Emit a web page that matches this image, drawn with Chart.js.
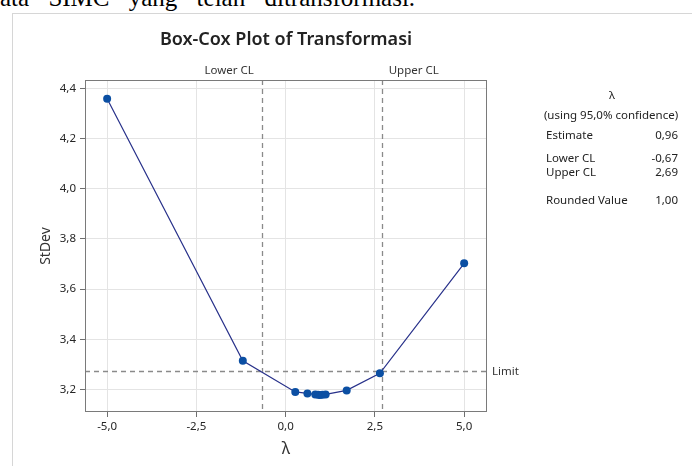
<!DOCTYPE html>
<html>
<head>
<meta charset="utf-8">
<script src="https://cdn.jsdelivr.net/npm/chart.js@4/dist/chart.umd.min.js"></script>
<style>
  html, body { margin: 0; padding: 0; background: #fff; width: 692px; height: 466px; overflow: hidden; position: relative; }
  #caption { position: absolute; left: 0; top: -15px; font-family: "Liberation Serif", "Times New Roman", serif; font-size: 25px; line-height: 25px; white-space: nowrap; word-spacing: 13px; color: #000; }
  #frame { position: absolute; left: 12px; top: 13px; width: 700px; height: 470px; border-top: 1px solid #d6d6d6; border-left: 1px solid #d6d6d6; }
  #wrap { position: absolute; left: 0; top: 0; width: 692px; height: 466px; }
  .info { position: absolute; font-family: "Noto Sans", sans-serif; font-size: 11.5px; line-height: 13px; color: #222; white-space: nowrap; transform: translateY(-50%); }
</style>
</head>
<body>
<div id="caption">ata SIMC yang telah ditransformasi.</div>
<div id="frame"></div>
<div id="wrap"><canvas id="c" width="692" height="466"></canvas></div>
<div id="info"></div>
<script>
// Box-Cox search: lambda vs. standard deviation of the transformed data
const lambdaValues = [-5, -1.2, 0.27, 0.61, 0.83, 0.91, 0.96, 1.03, 1.12, 1.71, 2.64, 5];
const stdevValues  = [4.358, 3.315, 3.191, 3.185, 3.181, 3.180, 3.179, 3.180, 3.181, 3.197, 3.265, 3.703];

const xTickValues = [-5, -2.5, 0, 2.5, 5];
const yTickValues = [3.2, 3.4, 3.6, 3.8, 4.0, 4.2, 4.4];

// 95% confidence results
const estimate = 0.96;
const lowerCL = -0.67;
const upperCL = 2.69;
const roundedValue = 1.00;
const stdevLimit = 3.274;

const infoLabels = ['Estimate', 'Lower CL', 'Upper CL', 'Rounded Value'];
const infoValues = [estimate, lowerCL, upperCL, roundedValue];
const infoRowY = [134, 157, 170.5, 199];

const FONT = '"Noto Sans", "Open Sans", sans-serif';
const fmt = (v, d) => v.toFixed(d).replace('.', ',');

// side panel with the confidence summary
const info = document.getElementById('info');
function addInfo(text, style) {
  const el = document.createElement('div');
  el.className = 'info';
  el.textContent = text;
  Object.assign(el.style, style);
  info.appendChild(el);
}
addInfo('λ', { left: '612px', top: '94px', transform: 'translate(-50%,-50%)' });
addInfo('(using 95,0% confidence)', { left: '611px', top: '114px', transform: 'translate(-50%,-50%)' });
infoLabels.forEach((lab, i) => {
  addInfo(lab, { left: '546px', top: infoRowY[i] + 'px' });
  addInfo(fmt(infoValues[i], 2), { right: (692 - 678) + 'px', top: infoRowY[i] + 'px' });
});

// confidence-limit guides, plot frame and their labels
const guides = {
  id: 'guides',
  beforeDatasetsDraw(chart) {
    const { ctx, chartArea: a, scales: { x, y } } = chart;
    ctx.save();
    ctx.setLineDash([5, 4]);
    ctx.strokeStyle = '#8a8a8a';
    ctx.lineWidth = 1.3;
    [lowerCL, upperCL].forEach(v => {
      const px = Math.round(x.getPixelForValue(v)) + 0.5;
      ctx.beginPath(); ctx.moveTo(px, a.top); ctx.lineTo(px, a.bottom); ctx.stroke();
    });
    const py = Math.round(y.getPixelForValue(stdevLimit)) + 0.5;
    ctx.beginPath(); ctx.moveTo(a.left, py); ctx.lineTo(a.right, py); ctx.stroke();
    ctx.setLineDash([]);
    ctx.strokeStyle = '#7a7a7a';
    ctx.lineWidth = 1;
    ctx.strokeRect(Math.round(a.left) + 0.5, Math.round(a.top) + 0.5,
                   Math.round(a.width) - 1, Math.round(a.height) - 1);
    ctx.restore();
  },
  afterDraw(chart) {
    const { ctx, chartArea: a, scales: { x, y } } = chart;
    ctx.save();
    ctx.fillStyle = '#333';
    ctx.font = '11.5px ' + FONT;
    ctx.textBaseline = 'middle';
    ctx.textAlign = 'right';
    ctx.fillText('Lower CL', x.getPixelForValue(lowerCL) - 8, a.top - 9);
    ctx.textAlign = 'left';
    ctx.fillText('Upper CL', x.getPixelForValue(upperCL) + 7, a.top - 9);
    ctx.font = '11.5px ' + FONT;
    ctx.fillText('Limit', a.right + 5, y.getPixelForValue(stdevLimit) + 1);
    ctx.restore();
  }
};

new Chart(document.getElementById('c'), {
  type: 'scatter',
  data: {
    datasets: [{
      data: lambdaValues.map((l, i) => ({ x: l, y: stdevValues[i] })),
      showLine: true,
      borderColor: '#28318a',
      borderWidth: 1.2,
      pointRadius: 4,
      pointHoverRadius: 4,
      pointBackgroundColor: '#0b4fa3',
      pointBorderColor: '#0b4fa3',
      pointBorderWidth: 0
    }]
  },
  options: {
    responsive: false,
    animation: false,
    events: [],
    layout: { padding: { left: 30, right: 205, top: 19, bottom: 0 } },
    plugins: {
      legend: { display: false },
      tooltip: { enabled: false },
      title: {
        display: true,
        fullSize: false,
        text: 'Box-Cox Plot of Transformasi',
        color: '#222',
        font: { family: FONT, size: 18, weight: '600' },
        padding: { top: 10, bottom: 29.4 }
      }
    },
    scales: {
      x: {
        type: 'linear',
        min: -5.62, max: 5.64,
        afterBuildTicks: s => { s.ticks = xTickValues.map(v => ({ value: v })); },
        afterFit: s => { s.height = 54; },
        border: { display: false },
        grid: { color: '#e4e4e4', lineWidth: 1, tickColor: '#6f6f6f', tickLength: 5 },
        ticks: { color: '#262626', font: { family: FONT, size: 11.5 }, padding: 3, maxRotation: 0, callback: v => fmt(v, 1) },
        title: { display: true, text: 'λ', color: '#333', font: { family: FONT, size: 16 }, padding: { top: 0, bottom: 7 } }
      },
      y: {
        type: 'linear',
        min: 3.111, max: 4.433,
        afterBuildTicks: s => { s.ticks = yTickValues.map(v => ({ value: v })); },
        afterFit: s => { s.width = 55; },
        border: { display: false },
        grid: { color: '#e4e4e4', lineWidth: 1, tickColor: '#6f6f6f', tickLength: 5 },
        ticks: { color: '#262626', font: { family: FONT, size: 11.5 }, padding: 4, callback: v => fmt(v, 1) },
        title: { display: true, text: 'StDev', color: '#333', font: { family: FONT, size: 14 }, padding: { top: 8, bottom: 0 } }
      }
    }
  },
  plugins: [guides]
});
</script>
</body>
</html>
